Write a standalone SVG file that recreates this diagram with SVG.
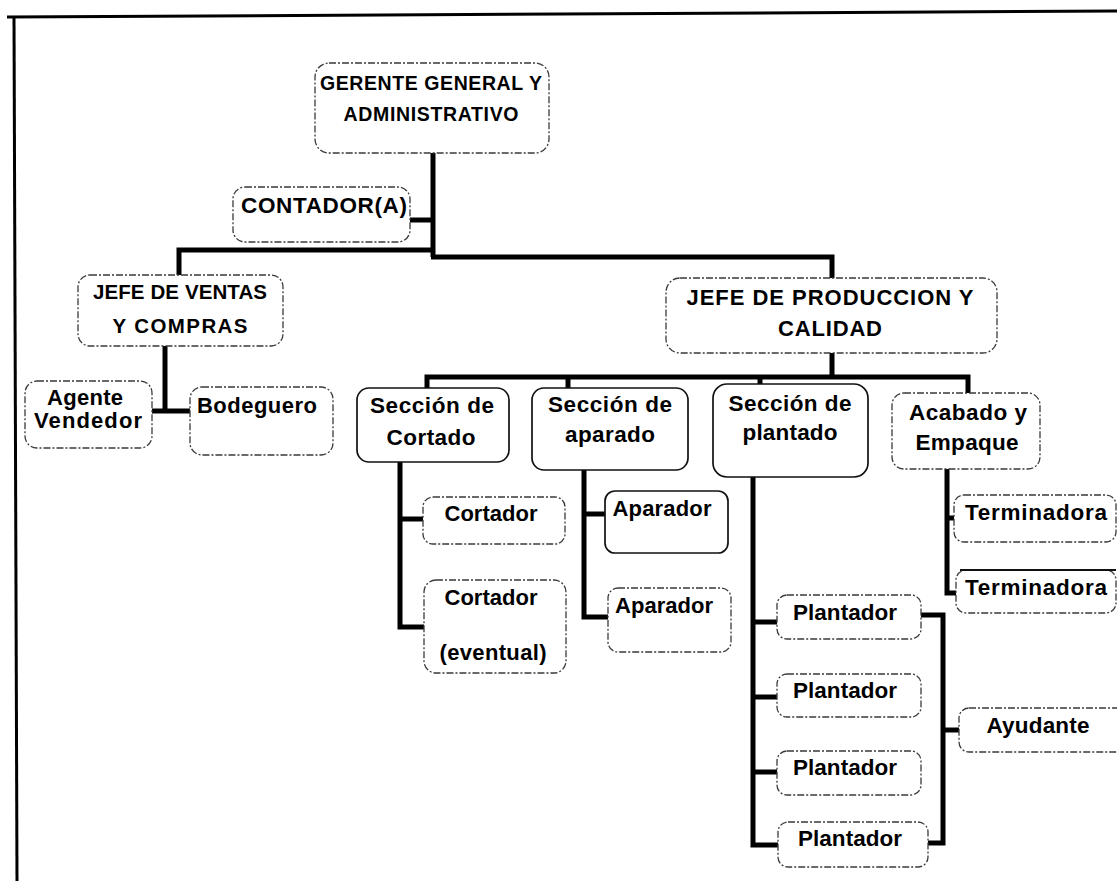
<svg xmlns="http://www.w3.org/2000/svg" width="1117" height="881" viewBox="0 0 1117 881">
  <style>
    .bg { fill: #ffffff; }
    .frame { fill: none; stroke: #000; stroke-width: 3; }
    .box { fill: #ffffff; stroke: #3a3a3a; stroke-width: 1.3; stroke-dasharray: 7 2 2 2; }
    .box-solid { fill: #ffffff; stroke: #111; stroke-width: 1.7; }
    .link { fill: none; stroke: #000; stroke-width: 5; stroke-linejoin: miter; stroke-linecap: butt; }
    text { font-family: "Liberation Sans", Arial, sans-serif; font-weight: bold; fill: #000; text-anchor: middle; }
    .t19 { font-size: 19.5px; }
    .t20 { font-size: 20.5px; }
    .t22 { font-size: 22px; }
    .t23 { font-size: 22.5px; }
  </style>

  <rect class="bg" x="0" y="0" width="1117" height="881"/>

  <!-- page frame (top and left edges) -->
  <g id="frame">
    <path class="frame" d="M7 17 L1117 11"/>
    <path class="frame" d="M14 16 L17 881"/>
  </g>

  <!-- connectors -->
  <g id="connectors">
    <path class="link" d="M433 153 V257"/>
    <path class="link" d="M410 220 H433"/>
    <path class="link" d="M435 250 H179 V276"/>
    <path class="link" d="M431 257 H832 V279"/>
    <path class="link" d="M165 346 V411"/>
    <path class="link" d="M152 411 H191"/>
    <path class="link" d="M832 353 V377"/>
    <path class="link" d="M427 389 V377 H968 V394"/>
    <path class="link" d="M568 377 V389"/>
    <path class="link" d="M760 377 V385"/>
    <path class="link" d="M400 462 V627 H425"/>
    <path class="link" d="M400 519 H424"/>
    <path class="link" d="M584 470 V617 H609"/>
    <path class="link" d="M584 514 H606"/>
    <path class="link" d="M753 477 V845 H779"/>
    <path class="link" d="M753 622 H778"/>
    <path class="link" d="M753 697 H778"/>
    <path class="link" d="M753 772 H778"/>
    <path class="link" d="M920 615 H943 V843 H927"/>
    <path class="link" d="M943 730 H960"/>
    <path class="link" d="M947 469 V593 H957"/>
    <path class="link" d="M947 518 H955"/>
  </g>

  <g id="gerente">
    <rect class="box" x="315" y="63" width="234" height="90" rx="14"/>
    <text class="t19" x="431" y="90" textLength="222">GERENTE  GENERAL Y</text>
    <text class="t19" x="431" y="121" textLength="175">ADMINISTRATIVO</text>
  </g>

  <g id="contador">
    <rect class="box" x="233" y="187" width="177" height="55" rx="12"/>
    <text class="t23" x="324" y="213" textLength="166">CONTADOR(A)</text>
  </g>

  <g id="jefe-ventas">
    <rect class="box" x="78" y="275" width="205" height="71" rx="12"/>
    <text class="t20" x="180" y="299" textLength="174">JEFE DE VENTAS</text>
    <text class="t20" x="180" y="333" textLength="135">Y COMPRAS</text>
  </g>

  <g id="agente">
    <rect class="box" x="25" y="381" width="127" height="67" rx="12"/>
    <text class="t22" x="85" y="405" textLength="76">Agente</text>
    <text class="t22" x="88" y="428" textLength="108">Vendedor</text>
  </g>

  <g id="bodeguero">
    <rect class="box" x="190" y="387" width="143" height="68" rx="12"/>
    <text class="t22" x="257" y="413" textLength="120">Bodeguero</text>
  </g>

  <g id="jefe-produccion">
    <rect class="box" x="666" y="278" width="331" height="75" rx="14"/>
    <text class="t22" x="830" y="305" textLength="287">JEFE DE PRODUCCION Y</text>
    <text class="t22" x="830" y="336" textLength="104">CALIDAD</text>
  </g>

  <g id="seccion-cortado">
    <rect class="box-solid" x="357" y="388" width="152" height="74" rx="12"/>
    <text class="t23" x="432" y="413" textLength="124">Sección de</text>
    <text class="t23" x="431" y="445" textLength="89">Cortado</text>
  </g>

  <g id="seccion-aparado">
    <rect class="box-solid" x="532" y="388" width="156" height="82" rx="12"/>
    <text class="t23" x="610" y="412" textLength="124">Sección de</text>
    <text class="t23" x="610" y="442" textLength="90">aparado</text>
  </g>

  <g id="seccion-plantado">
    <rect class="box-solid" x="713" y="384" width="155" height="93" rx="14"/>
    <text class="t23" x="790" y="411" textLength="123">Sección de</text>
    <text class="t23" x="790" y="440" textLength="95">plantado</text>
  </g>

  <g id="acabado">
    <rect class="box" x="892" y="393" width="148" height="76" rx="12"/>
    <text class="t23" x="968" y="420" textLength="118">Acabado y</text>
    <text class="t23" x="967" y="450" textLength="103">Empaque</text>
  </g>

  <g id="cortador">
    <rect class="box" x="423" y="497" width="142" height="47" rx="10"/>
    <text class="t22" x="491" y="521" textLength="93">Cortador</text>
  </g>

  <g id="cortador-eventual">
    <rect class="box" x="424" y="580" width="142" height="93" rx="12"/>
    <text class="t22" x="491" y="605" textLength="93">Cortador</text>
    <text class="t22" x="493" y="660" textLength="107">(eventual)</text>
  </g>

  <g id="aparador-1">
    <rect class="box-solid" x="605" y="491" width="123" height="62" rx="10"/>
    <text class="t22" x="662" y="516" textLength="99">Aparador</text>
  </g>

  <g id="aparador-2">
    <rect class="box" x="608" y="588" width="123" height="64" rx="10"/>
    <text class="t22" x="664" y="613" textLength="98">Aparador</text>
  </g>

  <g id="terminadora-1">
    <rect class="box" x="954" y="495" width="162" height="47" rx="10"/>
    <text class="t23" x="1036" y="520" textLength="142">Terminadora</text>
  </g>

  <g id="terminadora-2">
    <rect class="box" x="956" y="570" width="160" height="43" rx="10"/>
    <path d="M960 570 H1116" fill="none" stroke="#111" stroke-width="1.8"/>
    <text class="t23" x="1036" y="595" textLength="142">Terminadora</text>
  </g>

  <g id="plantador-1">
    <rect class="box" x="777" y="595" width="144" height="44" rx="10"/>
    <text class="t23" x="845" y="620" textLength="104">Plantador</text>
  </g>

  <g id="plantador-2">
    <rect class="box" x="777" y="674" width="144" height="43" rx="10"/>
    <text class="t23" x="845" y="698" textLength="104">Plantador</text>
  </g>

  <g id="plantador-3">
    <rect class="box" x="777" y="751" width="144" height="44" rx="10"/>
    <text class="t23" x="845" y="775" textLength="104">Plantador</text>
  </g>

  <g id="plantador-4">
    <rect class="box" x="778" y="822" width="150" height="45" rx="10"/>
    <text class="t23" x="850" y="846" textLength="104">Plantador</text>
  </g>

  <g id="ayudante">
    <rect class="box" x="959" y="708" width="170" height="44" rx="10"/>
    <text class="t23" x="1038" y="733" textLength="103">Ayudante</text>
  </g>
</svg>
